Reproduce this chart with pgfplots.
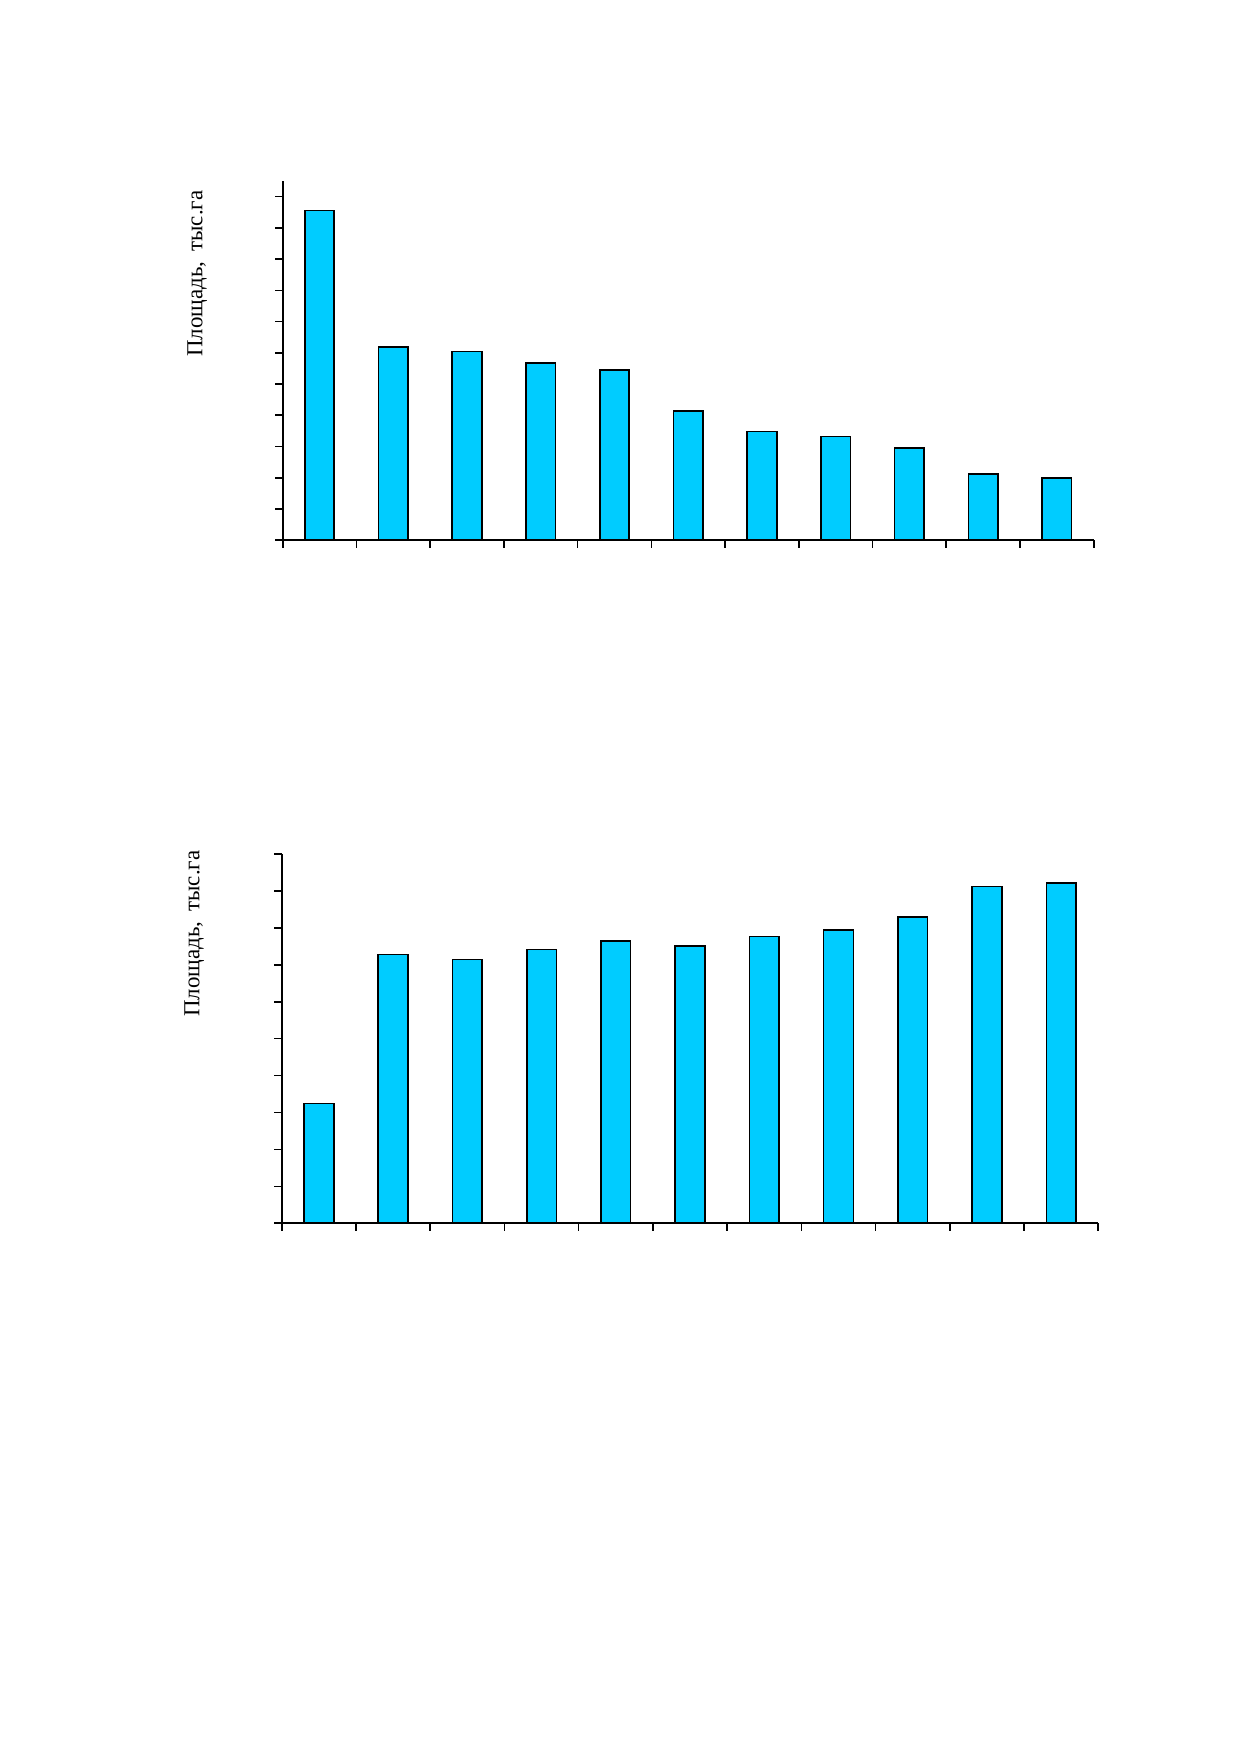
\documentclass[border=0pt]{standalone}
\usepackage{fontspec}
\setmainfont{Liberation Serif}
\usepackage{pgfplots}
\pgfplotsset{compat=1.18}
\definecolor{barcyan}{RGB}{0,204,255}
\pgfplotsset{
  mybars/.style={
    scale only axis,
    axis lines=left,
    axis line style={-, line width=0.85pt, black},
    xmin=0, xmax=11,
    ymin=0,
    xtick={0,...,11},
    xticklabels={},
    yticklabels={},
    tick align=outside,
    major tick length=3.6pt,
    tick style={line width=0.8pt, black},
    ybar,
    bar width=0.4,
    ylabel={Площадь,\hspace{0.45em}тыс.га},
    ylabel style={font=\fontsize{11}{13}\selectfont, anchor=base west},
  }
}
\begin{document}
\begin{tikzpicture}
\path[use as bounding box] (0pt,0pt) rectangle (594.72pt,-841.92pt);
\begin{axis}[mybars,
  at={(135.70pt,-259.34pt)}, anchor=south west,
  width=389.28pt, height=172.46pt,
  ymax=11.5, ytick={0,...,11},
  ylabel style={at={(axis description cs:-0.0991,0.490)}},
]
\addplot[fill=barcyan, draw=black, line width=0.8pt] coordinates {
(0.5,10.56) (1.5,6.19) (2.5,6.04) (3.5,5.67) (4.5,5.44) (5.5,4.14)
(6.5,3.48) (7.5,3.32) (8.5,2.96) (9.5,2.12) (10.5,2.00)};
\end{axis}
\begin{axis}[mybars,
  at={(135.22pt,-587.18pt)}, anchor=south west,
  width=391.97pt, height=177.26pt,
  ymax=10, ytick={0,...,10},
  ylabel style={at={(axis description cs:-0.1007,0.539)}},
]
\addplot[fill=barcyan, draw=black, line width=0.8pt] coordinates {
(0.5,3.24) (1.5,7.28) (2.5,7.14) (3.5,7.41) (4.5,7.64) (5.5,7.51)
(6.5,7.77) (7.5,7.94) (8.5,8.30) (9.5,9.12) (10.5,9.21)};
\end{axis}
\end{tikzpicture}
\end{document}
